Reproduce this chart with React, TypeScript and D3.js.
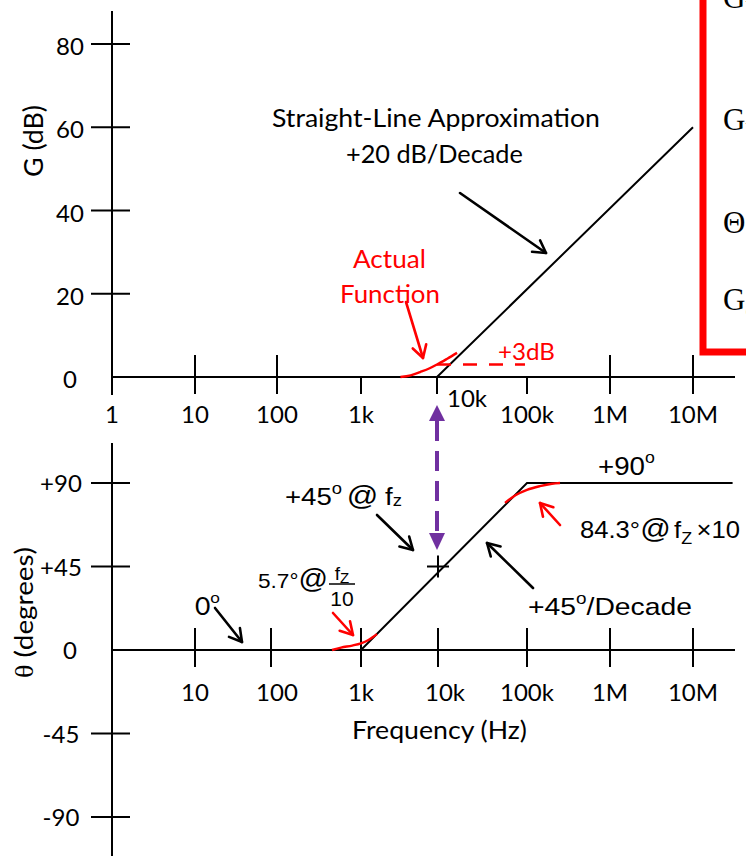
import React, { useLayoutEffect, useRef, useState } from "react";
import * as d3 from "d3";

// ---------- data ----------
const freqs = [1, 10, 100, 1e3, 1e4, 1e5, 1e6, 1e7];
const freqLabels = ["1", "10", "100", "1k", "10k", "100k", "1M", "10M"];
const gainTicks = [0, 20, 40, 60, 80];
const phaseTicks = [-90, -45, 0, 45, 90];
const phaseTickLabels = ["-90", "-45", "0", "+45", "+90"];

// gain (dB) vs frequency (Hz)
const gainAsymptote: [number, number][] = [[1, 0], [1e4, 0], [1e7, 60]];
const gainActual: [number, number][] = [
  [3.3e3, 0], [4.5e3, 0.4], [6e3, 1.2], [8e3, 2.1], [1e4, 3.0], [1.3e4, 4.4], [1.67e4, 5.8],
];
const gain3dB: [number, number][] = [[1e4, 3], [9.5e4, 3]];

// phase (deg) vs frequency (Hz)
const phaseAsymptote: [number, number][] = [[1, 0], [1e3, 0], [1e5, 90], [3e7, 90]];
const phaseLow: [number, number][] = [
  [476, 0], [600, 1.3], [800, 2.4], [1000, 3.6], [1250, 5.4], [1430, 7.0], [1610, 8.6],
];
const phaseHigh: [number, number][] = [
  [5.66e4, 79.3], [7.5e4, 83.5], [1e5, 86.3], [1.43e5, 88.3], [2e5, 89.6], [2.5e5, 90],
];
const fz = 1e4;

// ---------- styles ----------
const CAL = "Lato, 'Open Sans', sans-serif";
const ARIAL = "'Liberation Sans', Arial, sans-serif";
const SERIF = "'Liberation Serif', 'DejaVu Serif', serif";
const RED = "#FF0000";
const PURPLE = "#7030A0";

// ---------- scales ----------
const xTop = d3.scaleLog().domain(freqs).range([112, 195, 277, 361, 437, 527, 610, 693]);
const xBot = d3.scaleLog().domain(freqs).range([112, 195, 271, 361, 438, 527, 610, 693]);
const yTop = d3.scaleLinear().domain([0, 80]).range([377, 44]);
const yBot = d3.scaleLinear().domain([-90, 90]).range([817, 483]);

const lineTop = d3.line<[number, number]>().x((d) => xTop(d[0])).y((d) => yTop(d[1]));
const lineTopCurve = d3
  .line<[number, number]>()
  .x((d) => xTop(d[0]))
  .y((d) => yTop(d[1]))
  .curve(d3.curveMonotoneX);
const lineBot = d3.line<[number, number]>().x((d) => xBot(d[0])).y((d) => yBot(d[1]));
const lineBotCurve = d3
  .line<[number, number]>()
  .x((d) => xBot(d[0]))
  .y((d) => yBot(d[1]))
  .curve(d3.curveMonotoneX);

function FitText(props: {
  x: number;
  y: number;
  w: number;
  rotate?: number;
  font: string;
  size: number;
  fill?: string;
  children: React.ReactNode;
}) {
  const { x, y, w, rotate = 0, font, size, fill = "#000", children } = props;
  const ref = useRef<SVGTextElement>(null);
  const [s, setS] = useState(1);
  useLayoutEffect(() => {
    const el = ref.current;
    if (!el) return;
    const bb = el.getBBox();
    if (bb.width > 0) setS(w / bb.width);
  }, [w]);
  return (
    <g transform={`translate(${x},${y}) rotate(${rotate}) scale(${s},1)`}>
      <text ref={ref} x={0} y={0} fontFamily={font} fontSize={size} fill={fill}>
        {children}
      </text>
    </g>
  );
}

function Arrow(props: { x1: number; y1: number; x2: number; y2: number; color?: string; head?: number }) {
  const { x1, y1, x2, y2, color = "#000", head = 14 } = props;
  const a = Math.atan2(y2 - y1, x2 - x1);
  const sp = Math.PI / 6;
  const h1 = [x2 - head * Math.cos(a - sp), y2 - head * Math.sin(a - sp)];
  const h2 = [x2 - head * Math.cos(a + sp), y2 - head * Math.sin(a + sp)];
  return (
    <g stroke={color} strokeWidth={2.6} fill="none" strokeLinecap="round" strokeLinejoin="round">
      <line x1={x1} y1={y1} x2={x2} y2={y2} />
      <polyline points={`${h1[0]},${h1[1]} ${x2},${y2} ${h2[0]},${h2[1]}`} />
    </g>
  );
}

export default function App() {
  const W = 746;
  const H = 856;
  const topFull = new Set([10, 100, 1e6, 1e7]);
  const px = xTop(fz);

  return (
    <svg
      width={W}
      height={H}
      viewBox={`0 0 ${W} ${H}`}
      style={{ position: "absolute", left: 0, top: 0, background: "#fff" }}
    >
      <rect x={0} y={0} width={W} height={H} fill="#fff" />

      {/* ===== top (gain) panel ===== */}
      <g stroke="#000" strokeWidth={2} fill="none">
        <line x1={xTop(1)} y1={11} x2={xTop(1)} y2={395} />
        <line x1={xTop(1)} y1={yTop(0)} x2={735} y2={yTop(0)} />
        {gainTicks.slice(1).map((g) => (
          <line key={g} x1={91} x2={130} y1={yTop(g)} y2={yTop(g)} />
        ))}
        {freqs.slice(1).map((f) => (
          <line
            key={f}
            x1={xTop(f)}
            x2={xTop(f)}
            y1={topFull.has(f) ? yTop(0) - 22 : yTop(0)}
            y2={yTop(0) + 17}
          />
        ))}
      </g>
      {gainTicks.map((g) => (
        <text key={g} x={70} y={yTop(g) + 11} textAnchor="middle" fontFamily={CAL} fontSize={24} fill="#000">
          {g}
        </text>
      ))}
      {freqs.map((f, i) => (
        <text
          key={f}
          x={f === fz ? xTop(f) + 30 : xTop(f)}
          y={f === fz ? 407 : 423}
          textAnchor="middle"
          fontFamily={CAL}
          fontSize={24}
          fill="#000"
        >
          {freqLabels[i]}
        </text>
      ))}
      <FitText x={43} y={177} w={72} rotate={-90} font={CAL} size={26}>
        G (dB)
      </FitText>

      {/* asymptote and actual */}
      <path d={lineTop(gainAsymptote) || ""} stroke="#000" strokeWidth={2} fill="none" />
      <path d={lineTopCurve(gainActual) || ""} stroke={RED} strokeWidth={2.4} fill="none" />
      <path d={lineTop(gain3dB) || ""} stroke={RED} strokeWidth={2.4} fill="none" strokeDasharray="14,12" />

      <FitText x={272} y={127} w={328} font={CAL} size={25}>
        Straight-Line Approximation
      </FitText>
      <FitText x={346} y={163} w={177} font={CAL} size={25}>
        +20 dB/Decade
      </FitText>
      <Arrow x1={460} y1={193} x2={546} y2={253} />
      <FitText x={353} y={268} w={73} font={CAL} size={25} fill={RED}>
        Actual
      </FitText>
      <FitText x={340} y={303} w={100} font={CAL} size={25} fill={RED}>
        Function
      </FitText>
      <Arrow x1={406} y1={302} x2={423} y2={358} color={RED} />
      <FitText x={498} y={360} w={57} font={CAL} size={23} fill={RED}>
        +3dB
      </FitText>

      {/* red box with equations */}
      <rect x={703} y={-20} width={80} height={372} fill="#fff" stroke={RED} strokeWidth={7} />
      <g fontFamily={SERIF} fontSize={31} fill="#000">
        <text x={723} y={8}>
          G<tspan fontSize={20} dy={7}>V</tspan>
        </text>
        <text x={723} y={130}>
          G<tspan fontSize={20} dy={7}>V</tspan>
        </text>
        <text x={723} y={233}>Θ</text>
        <text x={723} y={310}>
          G<tspan fontSize={20} dy={7}>o</tspan>
        </text>
      </g>

      {/* purple double arrow */}
      <line x1={px} x2={px} y1={421} y2={533} stroke={PURPLE} strokeWidth={4} strokeDasharray="20,10" />
      <polygon points={`${px},405 ${px - 8},421 ${px + 8},421`} fill={PURPLE} />
      <polygon points={`${px},550 ${px - 8},533 ${px + 8},533`} fill={PURPLE} />

      {/* ===== bottom (phase) panel ===== */}
      <g stroke="#000" strokeWidth={2} fill="none">
        <line x1={xBot(1)} y1={443} x2={xBot(1)} y2={856} />
        <line x1={xBot(1)} y1={yBot(0)} x2={735} y2={yBot(0)} />
        {phaseTicks
          .filter((p) => p !== 0)
          .map((p) => (
            <line key={p} x1={91} x2={130} y1={yBot(p)} y2={yBot(p)} />
          ))}
        {freqs.slice(1).map((f) => (
          <line key={f} x1={xBot(f)} x2={xBot(f)} y1={yBot(0) - 22} y2={yBot(0) + 17} />
        ))}
      </g>
      {phaseTicks.map((p, i) => (
        <text
          key={p}
          x={p === 0 ? 70 : 61}
          y={yBot(p) + 9}
          textAnchor="middle"
          fontFamily={CAL}
          fontSize={24}
          fill="#000"
        >
          {phaseTickLabels[i]}
        </text>
      ))}
      {freqs.slice(1).map((f, i) => (
        <text
          key={f}
          x={f === fz ? xTop(f) + 8 : xTop(f)}
          y={701}
          textAnchor="middle"
          fontFamily={CAL}
          fontSize={24}
          fill="#000"
        >
          {freqLabels[i + 1]}
        </text>
      ))}
      <FitText x={352} y={739} w={175} font={CAL} size={25}>
        Frequency (Hz)
      </FitText>
      <FitText x={33} y={678} w={131} rotate={-90} font={CAL} size={25}>
        <tspan fontFamily={SERIF}>θ</tspan> (degrees)
      </FitText>

      <path d={lineBot(phaseAsymptote) || ""} stroke="#000" strokeWidth={2} fill="none" />
      <path d={lineBotCurve(phaseLow) || ""} stroke={RED} strokeWidth={2.4} fill="none" />
      <path d={lineBotCurve(phaseHigh) || ""} stroke={RED} strokeWidth={2.4} fill="none" />

      {/* + marker at fz */}
      <g stroke="#000" strokeWidth={2}>
        <line x1={xBot(fz) - 11} x2={xBot(fz) + 11} y1={yBot(45)} y2={yBot(45)} />
        <line x1={xBot(fz)} x2={xBot(fz)} y1={yBot(45) - 11} y2={yBot(45) + 11} />
      </g>

      {/* annotations */}
      <FitText x={285} y={505} w={117} font={ARIAL} size={24}>
        +45
        <tspan fontSize={16} dy={-11}>
          o
        </tspan>
        <tspan fontSize={27} dy={11} dx={4}>
          @
        </tspan>
        <tspan dx={6}>f</tspan>
        <tspan fontSize={16} dy={1}>
          z
        </tspan>
      </FitText>
      <Arrow x1={377} y1={515} x2={413} y2={550} />

      <FitText x={258} y={588} w={70} font={ARIAL} size={21}>
        5.7°<tspan fontSize={27}>@</tspan>
      </FitText>
      <text x={342} y={580} textAnchor="middle" fontFamily={ARIAL} fontSize={19} fill="#000">
        f
        <tspan fontSize={15} dy={3}>
          Z
        </tspan>
      </text>
      <line x1={329} x2={355} y1={584} y2={584} stroke="#000" strokeWidth={1.5} />
      <text x={342} y={606} textAnchor="middle" fontFamily={ARIAL} fontSize={21} fill="#000">
        10
      </text>
      <Arrow x1={333} y1={613} x2={353} y2={635} color={RED} />

      <FitText x={195} y={615} w={25} font={CAL} size={25}>
        0
        <tspan fontSize={16} dy={-12}>
          o
        </tspan>
      </FitText>
      <Arrow x1={215} y1={608} x2={242} y2={642} />

      <FitText x={598} y={475} w={57} font={ARIAL} size={25}>
        +90
        <tspan fontSize={16} dy={-12}>
          o
        </tspan>
      </FitText>

      <FitText x={580} y={538} w={160} font={ARIAL} size={23}>
        84.3°<tspan fontSize={27}>@</tspan>
        <tspan dx={3}>f</tspan>
        <tspan fontSize={16} dy={6}>
          Z
        </tspan>
        <tspan dy={-6} dx={4}>
          ×10
        </tspan>
      </FitText>
      <Arrow x1={560} y1={525} x2={540} y2={503} color={RED} />

      <FitText x={528} y={615} w={164} font={ARIAL} size={24}>
        +45
        <tspan fontSize={16} dy={-11}>
          o
        </tspan>
        <tspan dy={11}>/Decade</tspan>
      </FitText>
      <Arrow x1={533} y1={588} x2={487} y2={543} />
    </svg>
  );
}
